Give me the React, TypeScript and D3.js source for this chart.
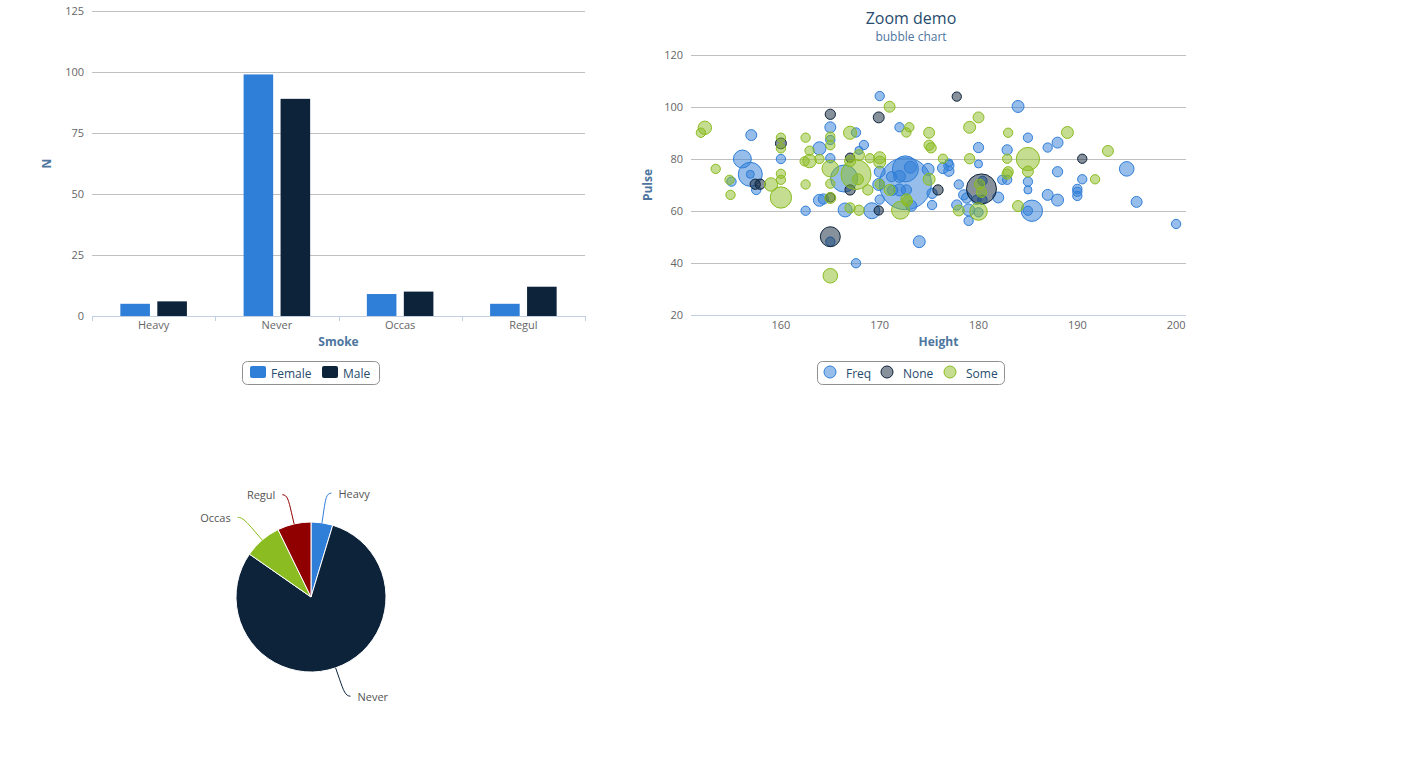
import React from 'react';
import * as d3 from 'd3';

// ---------- Data ----------
const smokeCategories = ['Heavy', 'Never', 'Occas', 'Regul'];
const sexSeries = ['Female', 'Male'];
const femaleCounts = [5, 99, 9, 5];
const maleCounts = [6, 89, 10, 12];
const barYTicks = [0, 25, 50, 75, 100, 125];

const pieLabels = ['Heavy', 'Never', 'Occas', 'Regul'];
const pieValues = [11, 188, 19, 17];

const exerSeries = ['Freq', 'None', 'Some'];
// [Height, Pulse, Age]
const freqPoints = [
  [170, 104.2, 16.8], [184, 100.2, 17.2], [165, 92.2, 17.0], [172, 92.2, 16.8], [167.6, 90.2, 16.8],
  [157, 89.2, 17.0], [168.4, 85.4, 16.8], [167.9, 83.3, 16.75], [163.9, 84.1, 17.5], [165, 87.3, 16.8],
  [165, 80.3, 16.8], [160, 80, 16.8], [156.1, 80, 19.6], [156.9, 74.1, 24.2], [156.9, 74.1, 16.75],
  [155, 71.3, 16.8], [157.5, 68.1, 16.8], [162.5, 60.1, 16.8], [163.9, 64.1, 17.2], [164.3, 64.6, 16.9],
  [166.4, 72.5, 27.3], [166.5, 60.4, 17.8], [169.2, 60.1, 18.6], [170, 64.4, 16.8], [170, 75.1, 17.0],
  [169.9, 70.2, 17.2], [172.6, 70.5, 73], [172.6, 76.2, 26.2], [173.1, 76.8, 17.2], [172, 73.3, 17.2],
  [171.2, 73.2, 16.9], [172, 68.1, 17.2], [171.3, 68, 16.9], [172.7, 68.1, 16.9], [173.2, 62, 17.0],
  [174, 48.2, 17.2], [167.6, 39.9, 16.8], [165, 48.2, 16.8], [174.9, 76, 17.2], [176.4, 76.5, 17.0],
  [177, 77.5, 16.9], [177, 75.3, 16.9], [177, 78.5, 16.75], [175.3, 66.8, 16.9], [175.3, 62.3, 16.8],
  [178, 70.2, 16.8], [177.8, 62.3, 16.9], [178.5, 66.2, 16.9], [178.8, 65, 16.9], [179, 60.4, 17.2],
  [179, 56.2, 16.8], [180, 59.5, 16.8], [180, 84.4, 16.9], [180, 78.1, 16.75], [180.4, 71.6, 16.8],
  [179.8, 64.3, 16.8], [180.4, 64.3, 16.8], [182, 65.2, 17.0], [182.4, 72, 16.8], [182.9, 72, 16.8],
  [182.9, 83.5, 16.9], [185, 88.2, 16.8], [185, 71.3, 16.8], [185, 68.1, 16.75], [185.4, 60.1, 21.9],
  [185, 60.1, 16.8], [187, 84.4, 16.8], [187, 66.2, 17.0], [188, 86.3, 17.0], [188, 75.1, 16.9],
  [188, 64.2, 17.2], [190, 68.5, 16.8], [190, 67.4, 16.8], [190, 65.8, 16.8], [190.5, 72.2, 16.8],
  [195, 76.2, 18.0], [196, 63.5, 17.0], [200, 55, 16.8],
];
const nonePoints = [
  [177.8, 104, 16.8], [165, 97.2, 16.9], [169.9, 96, 17.0], [160, 86, 17.0], [167, 80.5, 16.8],
  [157.4, 70.3, 16.9], [157.9, 70.3, 16.9], [167, 68.1, 16.9], [165, 65.2, 16.8], [169.9, 60.2, 16.8],
  [165, 50.1, 20.9], [175.9, 68.1, 16.9], [180.3, 68.5, 30.8], [190.5, 80.1, 16.8],
];
const somePoints = [
  [152.3, 92, 17.6], [151.9, 90.1, 16.8], [153.4, 76.2, 16.8], [154.8, 72, 16.8], [154.9, 66.2, 16.8],
  [159, 70.2, 17.6], [160, 88.2, 16.8], [160, 84.1, 16.8], [160, 74.3, 16.8], [160, 72, 16.8],
  [160, 65.2, 21.9], [162.5, 88.2, 16.8], [162.9, 83.2, 16.8], [162.4, 79.1, 16.8], [162.9, 79.2, 17.6],
  [163.9, 80, 16.8], [162.5, 70.2, 16.8], [165, 88.6, 16.8], [165, 85.3, 16.8], [165, 76.3, 18.9],
  [165, 70.5, 16.8], [165, 65, 17.0], [165, 35.1, 18.0], [167, 90.1, 17.5], [167, 79.2, 17.0],
  [167.9, 81.5, 17.0], [169, 80.3, 16.8], [170, 80.5, 17.2], [170, 78.8, 17.2], [167.6, 74, 30.8],
  [167.8, 72.2, 17.0], [168.8, 68.1, 16.9], [167, 61.2, 16.9], [167.9, 60.3, 16.9], [170, 70.3, 16.8],
  [171, 68.1, 17.0], [171, 100.1, 17.0], [173, 92.2, 16.8], [172.7, 90.2, 16.8], [175, 90.1, 17.0],
  [175, 85.3, 16.9], [175.2, 84.3, 16.9], [176.4, 80.1, 16.8], [175, 72.2, 17.2], [172.7, 64.5, 17.0],
  [172.8, 63.8, 16.9], [172.1, 60.3, 19.6], [178, 60.2, 17.0], [179.1, 92.2, 17.2], [180, 96, 17.0],
  [179.1, 80.1, 16.9], [180.1, 70.3, 16.9], [180.3, 67.2, 16.9], [180, 59.8, 19.4], [183, 90.1, 16.8],
  [182.9, 80.1, 16.8], [183, 75.1, 16.9], [182.9, 74.2, 16.9], [184, 61.9, 17.0], [185, 80, 23.5],
  [185, 75.2, 17.0], [189, 90.2, 17.2], [193.1, 83.1, 17.0], [191.8, 72.2, 16.8],
];
const scatterXTicks = [160, 170, 180, 190, 200];
const scatterYTicks = [20, 40, 60, 80, 100, 120];

// ---------- Style ----------
const COLORS = ['#2f7ed8', '#0d233a', '#8bbc21', '#910000'];
const FONT = '"Open Sans", "DejaVu Sans", Arial, sans-serif';
const GRID = '#C0C0C0';
const AXIS = '#C0D0E0';
const LABEL = '#666666';
const TITLE = '#4d759e';
const LEGEND_TXT = '#274b6d';

function BarChart() {
  const left = 92, right = 585, top = 11, bottom = 316;
  const x = d3.scaleBand().domain(smokeCategories).range([left, right]).padding(0);
  const bw = x.bandwidth();
  const inner = d3.scaleBand().domain(sexSeries).range([0.2 * bw, 0.8 * bw]).paddingInner(0.2).paddingOuter(0.1);
  const y = d3.scaleLinear().domain([0, 125]).range([bottom, top]);
  const series = [femaleCounts, maleCounts];
  const boundaries = d3.range(smokeCategories.length + 1).map((i) => left + i * bw);
  return (
    <g fontFamily={FONT}>
      {barYTicks.map((t) => (
        <g key={t}>
          <line x1={left} x2={right} y1={Math.round(y(t)) + 0.5} y2={Math.round(y(t)) + 0.5} stroke={GRID} />
          <text x={84} y={y(t) + 4} textAnchor="end" fontSize={11} fill={LABEL}>{t}</text>
        </g>
      ))}
      {series.map((vals, si) =>
        vals.map((v, ci) => (
          <rect key={si + '-' + ci}
            x={(x(smokeCategories[ci]) as number) + (inner(sexSeries[si]) as number)}
            y={y(v)} width={inner.bandwidth()} height={bottom - y(v)} fill={COLORS[si]} />
        ))
      )}
      <line x1={left} x2={right} y1={bottom + 0.5} y2={bottom + 0.5} stroke={AXIS} />
      {boundaries.map((b, i) => (
        <line key={i} x1={Math.round(b) + 0.5} x2={Math.round(b) + 0.5} y1={bottom} y2={bottom + 5} stroke={AXIS} />
      ))}
      {smokeCategories.map((c) => (
        <text key={c} x={(x(c) as number) + bw / 2} y={329} textAnchor="middle" fontSize={11} fill={LABEL}>{c}</text>
      ))}
      <text x={(left + right) / 2} y={346} textAnchor="middle" fontSize={12} fontWeight="bold" fill={TITLE}>Smoke</text>
      <text transform={`translate(51,${(top + bottom) / 2}) rotate(-90)`} textAnchor="middle" fontSize={12} fontWeight="bold" fill={TITLE}>N</text>
      {/* legend */}
      <rect x={242.5} y={361.5} width={137} height={23} rx={5} fill="none" stroke="#909090" />
      {sexSeries.map((s, i) => {
        const ox = [250, 322][i];
        return (
          <g key={s}>
            <rect x={ox} y={366} width={16} height={12} rx={2} fill={COLORS[i]} />
            <text x={ox + 21} y={377.5} fontSize={12} fill={LEGEND_TXT}>{s}</text>
          </g>
        );
      })}
    </g>
  );
}

function ScatterChart() {
  const left = 691, right = 1186, top = 55, bottom = 315;
  const x = d3.scaleLinear().domain([150.9, 201.0]).range([left, right]);
  const y = d3.scaleLinear().domain([20, 120]).range([bottom, top]);
  const all = [freqPoints, nonePoints, somePoints];
  const zExt = d3.extent(all.flat().map((p) => p[2])) as [number, number];
  const posScale = d3.scaleLinear().domain([0, 1]).range([4, 26]);
  const r = (z: number) => posScale(Math.sqrt((z - zExt[0]) / (zExt[1] - zExt[0])));
  const cx = 911;
  return (
    <g fontFamily={FONT}>
      <defs>
        <clipPath id="plotclip">
          <rect x={left} y={top - 30} width={right - left} height={bottom - top + 30} />
        </clipPath>
      </defs>
      <text x={cx} y={23.5} textAnchor="middle" fontSize={16} fill={LEGEND_TXT}>Zoom demo</text>
      <text x={cx} y={40.5} textAnchor="middle" fontSize={12} fill={TITLE}>bubble chart</text>
      {scatterYTicks.map((t) => (
        <g key={t}>
          <line x1={left} x2={right} y1={Math.round(y(t)) + 0.5} y2={Math.round(y(t)) + 0.5} stroke={GRID} />
          <text x={683} y={y(t) + 4} textAnchor="end" fontSize={11} fill={LABEL}>{t}</text>
        </g>
      ))}
      <line x1={left} x2={right} y1={bottom + 0.5} y2={bottom + 0.5} stroke={AXIS} />
      {scatterXTicks.map((t) => (
        <text key={t} x={x(t)} y={329} textAnchor="middle" fontSize={11} fill={LABEL}>{t}</text>
      ))}
      <text x={(left + right) / 2} y={346} textAnchor="middle" fontSize={12} fontWeight="bold" fill={TITLE}>Height</text>
      <text transform={`translate(652,${(top + bottom) / 2}) rotate(-90)`} textAnchor="middle" fontSize={12} fontWeight="bold" fill={TITLE}>Pulse</text>
      <g clipPath="url(#plotclip)">
        {all.map((pts, si) => {
          const col = d3.color(COLORS[si]) as d3.RGBColor;
          const fill = `rgba(${col.r},${col.g},${col.b},0.5)`;
          const sorted = [...pts].sort((a, b) => b[2] - a[2]);
          return (
            <g key={si}>
              {sorted.map((p, i) => (
                <circle key={i} cx={x(p[0])} cy={y(p[1])} r={r(p[2])} fill={fill} stroke={COLORS[si]} strokeWidth={1} />
              ))}
            </g>
          );
        })}
      </g>
      {/* legend */}
      <rect x={817.5} y={361.5} width={187} height={23} rx={5} fill="none" stroke="#909090" />
      {exerSeries.map((s, i) => {
        const ox = [830, 887, 950][i];
        const col = d3.color(COLORS[i]) as d3.RGBColor;
        return (
          <g key={s}>
            <circle cx={ox} cy={372} r={6} fill={`rgba(${col.r},${col.g},${col.b},0.5)`} stroke={COLORS[i]} />
            <text x={ox + 16} y={377.5} fontSize={12} fill={LEGEND_TXT}>{s}</text>
          </g>
        );
      })}
    </g>
  );
}

function PieChart() {
  const cx = 311, cy = 597, radius = 75, distance = 30, connOff = 12;
  const pie = d3.pie<number>().sort(null).value((d) => d)(pieValues);
  const arc = d3.arc<d3.PieArcDatum<number>>().innerRadius(0).outerRadius(radius);
  return (
    <g fontFamily={FONT} transform={`translate(${cx},${cy})`}>
      {pie.map((s, i) => (
        <path key={i} d={arc(s) as string} fill={COLORS[i]} stroke="#ffffff" strokeWidth={1} strokeLinejoin="round" />
      ))}
      {pie.map((s, i) => {
        const a = (s.startAngle + s.endAngle) / 2;
        const dx = Math.sin(a), dy = -Math.cos(a);
        const left = dx < 0;
        const lx = dx * (radius + distance), ly = dy * (radius + distance);
        const bx = dx * (radius + connOff), by = dy * (radius + connOff);
        const ex = dx * radius, ey = dy * radius;
        const path = `M${lx + (left ? -5 : 5)},${ly} C${lx},${ly} ${2 * bx - ex},${2 * by - ey} ${bx},${by} L${ex},${ey}`;
        return (
          <g key={'l' + i}>
            <path d={path} fill="none" stroke={COLORS[i]} strokeWidth={1} />
            <text x={lx + (left ? -12 : 12)} y={ly + 4.5} textAnchor={left ? 'end' : 'start'} fontSize={11} fill="#555555">{pieLabels[i]}</text>
          </g>
        );
      })}
    </g>
  );
}

export default function App() {
  return (
    <svg width={1421} height={762} style={{ position: 'absolute', left: 0, top: 0, background: '#ffffff' }}>
      <BarChart />
      <ScatterChart />
      <PieChart />
    </svg>
  );
}
